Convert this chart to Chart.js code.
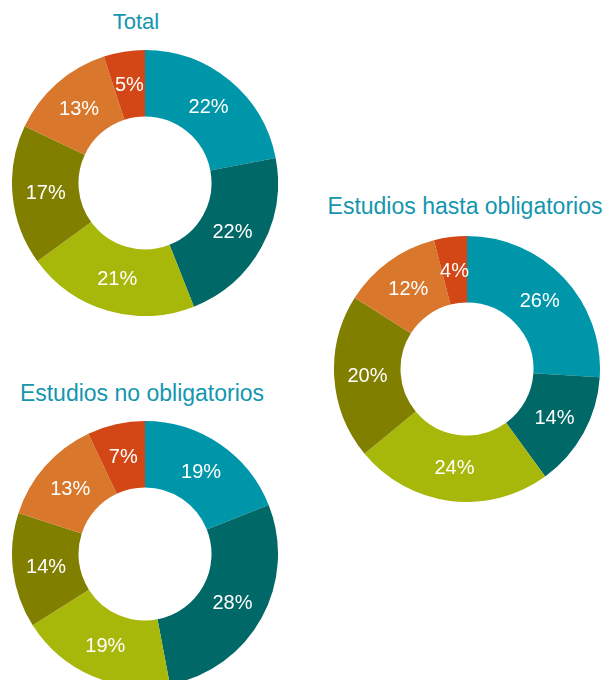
<!DOCTYPE html>
<html>
<head>
<meta charset="utf-8">
<script src="https://cdn.jsdelivr.net/npm/chart.js@4/dist/chart.umd.min.js"></script>
<style>
  html, body { margin: 0; padding: 0; background: #ffffff; overflow: hidden; width: 605px; height: 680px; }
  .wrap { position: absolute; }
  .ttl { position: absolute; font-family: "Liberation Sans", Arial, sans-serif; font-size: 23px; line-height: 23px;
         color: #1496AF; white-space: nowrap; transform: translateX(-50%); }
</style>
</head>
<body>
<div class="ttl" style="left:136px; top:11px; font-size:22px; line-height:22px;">Total</div>
<div class="ttl" style="left:465px; top:195px;">Estudios hasta obligatorios</div>
<div class="ttl" style="left:142px; top:382px;">Estudios no obligatorios</div>

<div class="wrap" style="left:12px; top:50px; width:266px; height:266px;"><canvas id="c1"></canvas></div>
<div class="wrap" style="left:334px; top:236px; width:266px; height:266px;"><canvas id="c2"></canvas></div>
<div class="wrap" style="left:12px; top:421px; width:266px; height:266px;"><canvas id="c3"></canvas></div>

<script>
const categories = ["Categoría 1", "Categoría 2", "Categoría 3", "Categoría 4", "Categoría 5", "Categoría 6"];
const totalValues = [22, 22, 21, 17, 13, 5];
const hastaObligatoriosValues = [26, 14, 24, 20, 12, 4];
const noObligatoriosValues = [19, 28, 19, 14, 13, 7];
const sliceColors = ["#0096A9", "#006867", "#A8B80A", "#807F00", "#D9782D", "#D34616"];

const sliceLabels = {
  id: 'sliceLabels',
  afterDatasetsDraw(chart) {
    const ctx = chart.ctx;
    const meta = chart.getDatasetMeta(0);
    const data = chart.data.datasets[0].data;
    ctx.save();
    ctx.font = '20px "Liberation Sans", Arial, sans-serif';
    ctx.fillStyle = '#ffffff';
    ctx.textAlign = 'center';
    ctx.textBaseline = 'middle';
    meta.data.forEach((arc, i) => {
      const p = arc.tooltipPosition();
      ctx.fillText(data[i] + '%', p.x, p.y + 1);
    });
    ctx.restore();
  }
};

function makeDonut(id, values) {
  new Chart(document.getElementById(id), {
    type: 'doughnut',
    data: {
      labels: categories,
      datasets: [{
        data: values,
        backgroundColor: sliceColors,
        borderWidth: 0
      }]
    },
    options: {
      responsive: true,
      maintainAspectRatio: false,
      animation: false,
      cutout: '50%',
      layout: { padding: 0 },
      plugins: {
        legend: { display: false },
        title: { display: false },
        tooltip: { enabled: false }
      },
      events: []
    },
    plugins: [sliceLabels]
  });
}

makeDonut('c1', totalValues);
makeDonut('c2', hastaObligatoriosValues);
makeDonut('c3', noObligatoriosValues);
</script>
</body>
</html>
